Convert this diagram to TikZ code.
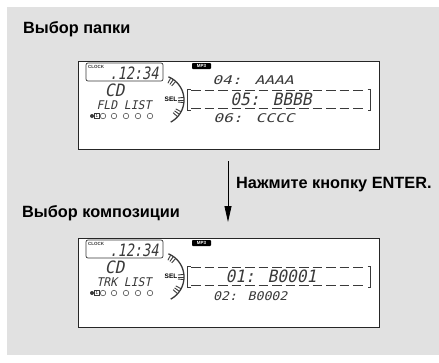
\documentclass[tikz,border=0pt]{standalone}
\usepackage{fontspec}
\setmainfont{Liberation Sans}
\newfontfamily\lcdfont{DejaVu Sans Mono}[FakeSlant=0.22]
\usetikzlibrary{arrows.meta}
\definecolor{bggray}{HTML}{E1E1E1}
\definecolor{lcdgray}{HTML}{3A3A3A}
\tikzset{
  title/.style={anchor=base west, inner sep=0pt, font=\fontsize{16.3}{18}\selectfont\bfseries},
  frame/.style={draw=black!85, line width=0.8pt, fill=white},
  lcd/.style={inner sep=0pt, text=lcdgray, font=\lcdfont\fontsize{12}{12}\selectfont},
  lcdbig/.style={inner sep=0pt, text=lcdgray, font=\lcdfont\fontsize{17}{17}\selectfont},
  tiny/.style={inner sep=0pt, font=\fontsize{4.5}{5}\selectfont\bfseries},
  dashline/.style={line width=1.6pt, dash pattern=on 9.5pt off 4pt, lcdgray},
  brk/.style={line width=1.4pt, lcdgray},
  dot/.style={circle, draw=lcdgray, line width=0.5pt, minimum size=5.5pt, inner sep=0pt},
}
\newcommand{\dispbase}[1]{%
  % clock box
  \draw[lcdgray, line width=0.7pt, rounded corners=2pt] (8,2) rectangle (85,20);
  \node[tiny, anchor=west, text=lcdgray] (#1clk) at (10,5.5) {CLOCK};
  \node[lcdbig, anchor=center, xscale=0.8] (#1time) at (56,12) {.12:34};
  \node[lcdbig, anchor=center, xscale=0.95] (#1cd) at (36.5,29) {CD};
  % dial
  \draw[lcdgray, line width=1.3pt] plot[domain=-62:68, samples=40] ({81+25*cos(\x)},{39-25*sin(\x)});
  \foreach \a in {62,55,48,6,0,-6,-28,-35,-42}
    \draw[lcdgray, line width=0.9pt] ({81+19*cos(\a)},{39-19*sin(\a)}) -- ({81+24.5*cos(\a)},{39-24.5*sin(\a)});
  \node[inner sep=0pt, font=\fontsize{6.5}{7}\selectfont\bfseries] (#1sel) at (93,38) {SEL};
  % MP3 badge
  \node[fill=black, rounded corners=0.8pt, inner sep=0.6pt, text=white, font=\fontsize{4.5}{5}\selectfont\bfseries, minimum width=19pt, minimum height=6pt] (#1mp3) at (123.5,5) {MP3};
  % presets
  \node[fill=lcdgray, circle, inner sep=0pt, minimum size=4pt] (#1disc) at (14,55) {};
  \node[draw=lcdgray, line width=0.4pt, inner sep=0.5pt, font=\fontsize{4.5}{5}\selectfont, minimum size=5pt] (#1one) at (19,55) {1};
  \foreach \i/\xx in {1/25,2/36,3/48,4/60,5/72}
    \node[dot] (#1c\i) at (\xx,55) {};
  % brackets and dashed lines
  \draw[brk] (112.5,28.5) -- (109.5,28.5) -- (109.5,49.5) -- (112.5,49.5);
  \draw[brk] (289.5,28.5) -- (292.5,28.5) -- (292.5,49.5) -- (289.5,49.5);
  \draw[dashline] (113,29.5) -- (288,29.5);
  \draw[dashline] (113,47.5) -- (288,47.5);
}
\begin{document}
\begin{tikzpicture}[x=1pt, y=-1pt]
\useasboundingbox (0,0) rectangle (439,362);
\fill[bggray] (7,7) rectangle (439,355);
\node[title] (t1) at (23,33) {Выбор папки};
\node[title] (t2) at (22,217) {Выбор композиции};
\node[title] (t3) at (236,188) {Нажмите кнопку ENTER.};

\node[frame, anchor=north west, minimum width=301pt, minimum height=88pt, inner sep=0pt] (disp1) at (78,61) {};
\node[frame, anchor=north west, minimum width=301pt, minimum height=89pt, inner sep=0pt] (disp2) at (78,238) {};

\begin{scope}[shift={(78,61)}]
  \dispbase{a}
  \node[lcd, anchor=center, xscale=0.95] (afld) at (46,44) {FLD LIST};
  \node[lcd, anchor=west, xscale=1.35] (al1) at (134,19) {04: AAAA};
  \node[lcdbig, anchor=center, xscale=0.95] (al2) at (193,38.5) {05: BBBB};
  \node[lcd, anchor=west, xscale=1.35] (al3) at (135,57) {06: CCCC};
\end{scope}

\begin{scope}[shift={(78,238)}]
  \dispbase{b}
  \node[lcd, anchor=center, xscale=0.95] (btrk) at (46,44) {TRK LIST};
  \node[lcdbig, anchor=center, xscale=0.95] (bl2) at (193,38.5) {01: B0001};
  \node[lcd, anchor=west, xscale=1.1] (bl3) at (135,58) {02: B0002};
\end{scope}

\coordinate (ar1) at (228,161);
\coordinate (ar2) at (228,222);
\draw[line width=0.8pt, -{Triangle[length=16pt, width=7pt]}] (ar1) -- (ar2);
\end{tikzpicture}
\end{document}
